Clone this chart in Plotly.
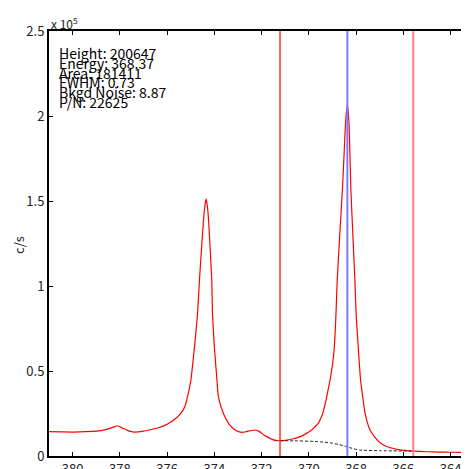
import plotly.graph_objects as go

# ---- data ----
energy = [381.0, 380.5, 380.0, 379.5, 379.0, 378.6, 378.3, 378.1, 377.9, 377.6, 377.4,
          377.0, 376.7, 376.4, 376.0, 375.6, 375.4, 375.25, 375.16, 375.0, 374.84,
          374.71, 374.63, 374.49, 374.42, 374.35, 374.28, 374.22, 374.11, 374.08,
          374.0, 373.89, 373.83, 373.62, 373.4, 373.12, 372.84, 372.65, 372.45,
          372.28, 372.1, 371.9, 371.78, 371.55, 371.36, 371.22, 371.0, 370.7,
          370.37, 370.1, 369.88, 369.72, 369.6, 369.5, 369.41, 369.32, 369.24,
          369.17, 369.1, 369.04, 368.99, 368.92, 368.85, 368.8, 368.7, 368.58,
          368.5, 368.44, 368.37, 368.3, 368.22, 368.12, 368.05, 368.0, 367.91,
          367.81, 367.72, 367.62, 367.41, 367.2, 367.0, 366.8, 366.57, 366.28,
          366.0, 365.58, 365.0, 364.5, 364.0, 363.22]
counts = [14300, 14200, 14100, 14300, 14600, 15500, 16800, 17800, 16500, 14600, 14100,
          14600, 15500, 16500, 18700, 22500, 25500, 29000, 33500, 44000, 64300,
          83900, 103500, 132900, 145000, 151200, 145000, 132900, 103500, 83900,
          64300, 44700, 34900, 25100, 19200, 15300, 13900, 14300, 15000,
          15300, 14500, 12300, 11400, 9800, 9000, 9000, 9200, 10000,
          11400, 13300, 15300, 17500, 19200, 22000, 25100, 30000, 34900,
          40000, 44700, 50000, 54500, 64300, 83900, 103000, 128000, 156500,
          180000, 197000, 206500, 196000, 156500, 125000, 103000, 84000, 64300,
          44700, 34900, 25100, 15300, 11000, 8000, 6200, 5000, 3900,
          3300, 2900, 2500, 2300, 2200, 2100]

bkg_energy = [371.22, 370.5, 369.81, 369.4, 369.1, 368.75, 368.4, 368.1, 367.84, 367.0, 365.58]
bkg_counts = [9000, 8900, 8600, 8200, 7800, 6800, 5500, 4200, 3500, 3100, 2900]

roi_left = 371.22
peak_energy = 368.37
roi_right = 365.58

x_ticks = [380, 378, 376, 374, 372, 370, 368, 366, 364]
y_ticks = [0, 50000, 100000, 150000, 200000, 250000]
y_ticktext = ["0", "0.5", "1", "1.5", "2", "2.5"]

stats = ["Height: 200647", "Energy: 368.37", "Area: 181411",
         "FWHM: 0.73", "Bkgd Noise: 8.87", "P/N: 22625"]

FONT = "Noto Sans CJK JP"

fig = go.Figure()
fig.add_trace(go.Scatter(x=energy, y=counts, mode="lines",
                         line=dict(color="#ff0000", width=1.2, shape="spline", smoothing=0.5),
                         showlegend=False))
fig.add_trace(go.Scatter(x=bkg_energy, y=bkg_counts, mode="lines",
                         line=dict(color="#222222", width=1, dash="3px,2px",
                                   shape="spline", smoothing=0.5),
                         showlegend=False))

fig.add_shape(type="line", xref="x", yref="paper", x0=roi_left, x1=roi_left, y0=0, y1=1,
              line=dict(color="#ff3030", width=1.5))
fig.add_shape(type="line", xref="x", yref="paper", x0=peak_energy, x1=peak_energy, y0=0, y1=1,
              line=dict(color="#7b7bff", width=2))
fig.add_shape(type="line", xref="x", yref="paper", x0=roi_right, x1=roi_right, y0=0, y1=1,
              line=dict(color="#ff8080", width=2))

# window coordinates (page body has an 8px margin)
plot_top, plot_bottom = 31, 456
ph = plot_bottom - plot_top
pw = 469 - 49

for i, s in enumerate(stats):
    yc = 53 + 9.8 * i
    fig.add_annotation(text=s, xref="paper", yref="paper", x=(57 - 49) / pw,
                       y=(plot_bottom - yc) / ph, xanchor="left", yanchor="middle",
                       showarrow=False, font=dict(family=FONT, size=14, color="black"))

fig.add_annotation(text="x 10<sup>5</sup>", xref="paper", yref="paper", x=0,
                   y=(plot_bottom - 23) / ph, xanchor="left", yanchor="middle",
                   showarrow=False, font=dict(family=FONT, size=12, color="#222"))
fig.add_annotation(text="c/s", xref="paper", yref="paper", x=(18 - 49) / pw,
                   y=(plot_bottom - 245) / ph, xanchor="center", yanchor="middle",
                   textangle=-90, showarrow=False,
                   font=dict(family=FONT, size=13, color="#222"))

fig.update_layout(
    width=461, height=461,
    margin=dict(l=41, r=0, t=23, b=13),
    paper_bgcolor="white", plot_bgcolor="white",
    font=dict(family=FONT, size=13, color="#222"),
    showlegend=False,
)
fig.update_xaxes(range=[381.0, 363.22], tickvals=x_ticks, ticks="inside", ticklen=4,
                 tickcolor="black", showline=True, linecolor="black", linewidth=2,
                 mirror="ticks", showgrid=False, zeroline=False, automargin=False,
                 tickfont=dict(family=FONT, size=13, color="#222"))
fig.update_yaxes(range=[0, 250000], tickvals=y_ticks, ticktext=y_ticktext, ticks="inside",
                 ticklen=4, tickcolor="black", showline=True, linecolor="black", linewidth=2,
                 showgrid=False, zeroline=False, automargin=False,
                 tickfont=dict(family=FONT, size=13, color="#222"))

fig.write_html("out.html")
